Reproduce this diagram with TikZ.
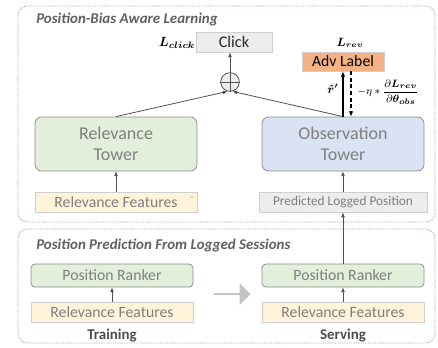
\documentclass[tikz,border=0pt]{standalone}
\usepackage{amsmath}
\usepackage{fontspec}
\setmainfont{Carlito}
\usetikzlibrary{arrows.meta,shapes.arrows}
\definecolor{greenfill}{HTML}{E2EFDA}
\definecolor{bluefill}{HTML}{DAE3F3}
\definecolor{orangefill}{HTML}{F4B183}
\definecolor{featfill}{HTML}{FFF4DA}
\definecolor{grayfill}{HTML}{EDEDED}
\definecolor{towerborder}{HTML}{8C8C8C}
\definecolor{featborder}{HTML}{CFCDCD}
\definecolor{txtgray}{HTML}{7F7F7F}
\definecolor{headgray}{HTML}{606060}
\definecolor{linegray}{HTML}{505050}
\definecolor{dotblue}{HTML}{8FA3C8}
\definecolor{blockgray}{HTML}{C4C4C4}
\begin{document}
\begin{tikzpicture}[x=0.75pt,y=-0.75pt,
  panel/.style={draw=dotblue, line width=0.6pt, dash pattern=on 0.6pt off 0.7pt, rounded corners=7pt},
  heading/.style={anchor=west, inner sep=0pt, text=headgray, font=\bfseries\itshape\fontsize{11.2}{13}\selectfont},
  tower/.style={draw=towerborder, line width=0.6pt, rounded corners=5pt, minimum width=121.5pt, minimum height=40.5pt, align=center, inner sep=0pt, text=txtgray, font=\fontsize{13.5}{16}\selectfont},
  feat/.style={draw=featborder, line width=0.6pt, fill=featfill, minimum width=121.5pt, minimum height=15pt, inner sep=0pt, text=txtgray, font=\fontsize{11.8}{14}\selectfont},
  ranker/.style={draw=towerborder, line width=0.6pt, rounded corners=3pt, fill=greenfill, minimum width=121.5pt, minimum height=17.25pt, inner sep=0pt, text=txtgray, font=\fontsize{11.8}{14}\selectfont},
  small/.style={inner sep=0pt, text=black!70, font=\bfseries\fontsize{11.2}{13}\selectfont},
  arr/.style={draw=linegray, line width=0.6pt, -{Latex[length=3.5pt,width=3pt]}},
]
\useasboundingbox (0,0) rectangle (438,347);
% panels
\draw[panel] (18,6) rectangle (435,222);
\draw[panel] (18,229) rectangle (435,343);
\node[heading] (h1) at (36,20) {Position-Bias Aware Learning};
\node[heading] (h2) at (36,246) {Position Prediction From Logged Sessions};
% upper part
\node[tower, fill=greenfill] (rt) at (116,144) {Relevance\\Tower};
\node[tower, fill=bluefill] (ot) at (343,144) {Observation\\Tower};
\node[feat] (rf) at (116,202) {Relevance Features};
\node[feat, fill=grayfill, minimum width=126pt, font=\fontsize{10}{12}\selectfont] (plp) at (343,202) {Predicted Logged Position};
\node[draw=featborder, line width=0.6pt, fill=grayfill, minimum width=57pt, minimum height=15pt, inner sep=0pt, text=black!85, font=\fontsize{12.2}{14}\selectfont] (click) at (234,42) {Click};
\node[draw=featborder, line width=0.6pt, fill=orangefill, minimum width=61.5pt, minimum height=14.25pt, inner sep=0pt, text=black, font=\fontsize{11.8}{14}\selectfont] (adv) at (343,61.5) {Adv Label};
\node[circle, draw=linegray, line width=0.6pt, fill=grayfill, minimum size=14pt, inner sep=0pt] (plus) at (230,82) {};
\draw[linegray, line width=0.6pt] (plus.north) -- (plus.south) (plus.west) -- (plus.east);
\node[inner sep=0pt] (lclick) at (177,43) {$\boldsymbol{L_{click}}$};
\node[inner sep=0pt] (lrev) at (350,43) {\small$\boldsymbol{L_{rev}}$};
\fill[red] (192,197) circle (0.7);
% connectors
\draw[arr] (rf.north) -- (rt.south);
\draw[arr] (plp.north) -- (ot.south);
\draw[arr] (rt.north) -- (plus.-105);
\draw[arr] (ot.north) -- (plus.-75);
\draw[arr] (plus.north) -- (plus.north |- click.south);
\coordinate (dn0) at (351,71);
\draw[line width=0.8pt, -{Latex[length=4pt,width=3.5pt]}] (ot.north) -- (ot.north |- adv.south);
\draw[line width=0.8pt, dash pattern=on 3pt off 2pt, -{Latex[length=4pt,width=3.5pt]}] (dn0) -- (dn0 |- ot.north);
\node[inner sep=0pt] (rhat) at (333,89) {\small$\boldsymbol{\hat{r}'}$};
\node[anchor=west, inner sep=0pt] (grad) at (357,92) {\footnotesize$-\eta * \dfrac{\partial \boldsymbol{L_{rev}}}{\partial \boldsymbol{\theta_{obs}}}$};
% lower part
\node[ranker] (prl) at (112,275.5) {Position Ranker};
\node[feat] (rfl) at (112,312) {Relevance Features};
\node[ranker] (prr) at (343,275.5) {Position Ranker};
\node[feat] (rfr) at (343,312) {Relevance Features};
\node[small] (train) at (112,336) {Training};
\node[small] (serve) at (343,336) {Serving};
\draw[arr] (rfl.north) -- (prl.south);
\draw[arr] (rfr.north) -- (prr.south);
\draw[arr] (prr.north) -- (plp.south);
\node[single arrow, fill=blockgray, draw=none, minimum height=27.75pt, minimum width=16.5pt, single arrow head extend=2pt, inner sep=0pt] (blk) at (231.5,294) {};
\end{tikzpicture}
\end{document}
